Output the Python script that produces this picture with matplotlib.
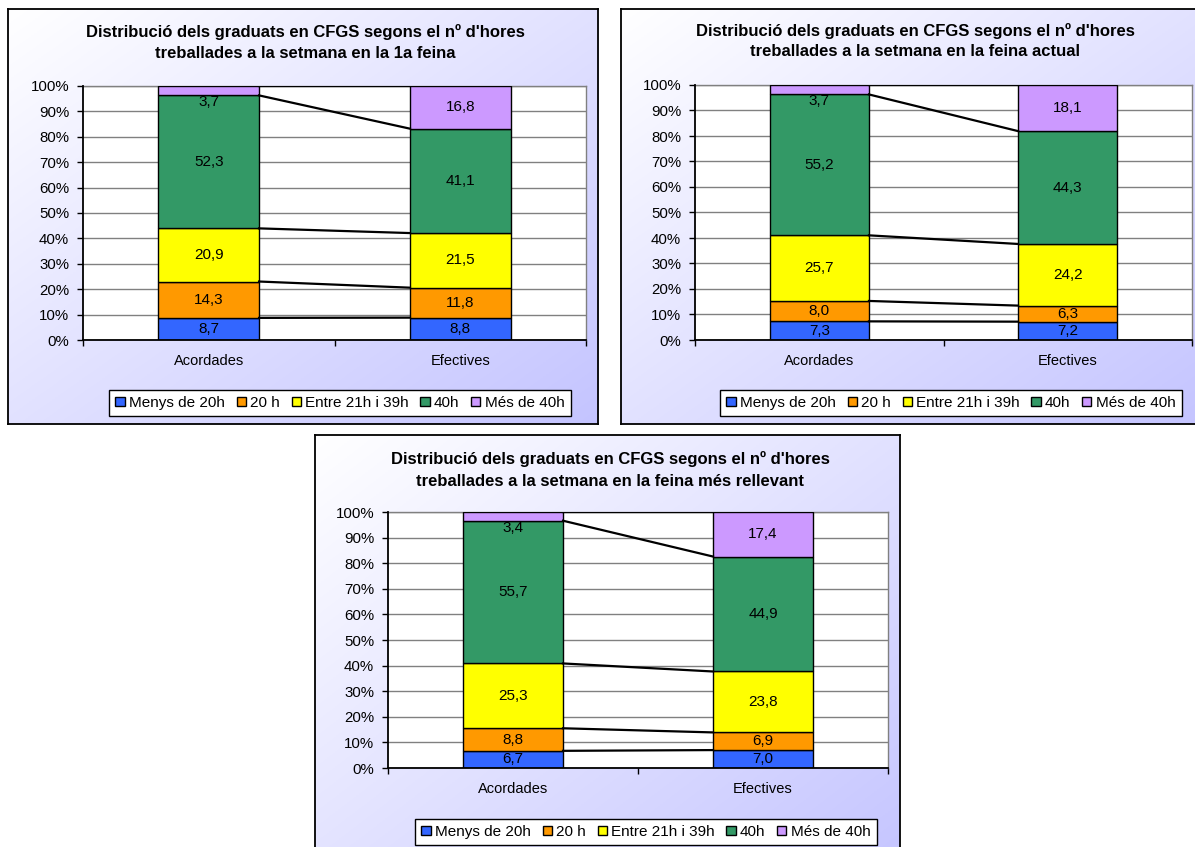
import matplotlib.pyplot as plt
import numpy as np
from matplotlib.patches import Patch

plt.rcParams['font.family'] = ['Liberation Sans', 'DejaVu Sans']

# data (percentages)
categories = ['Acordades', 'Efectives']
series_names = ['Menys de 20h', '20 h', 'Entre 21h i 39h', '40h', 'Més de 40h']
colors = ['#3366FF', '#FF9900', '#FFFF00', '#339966', '#CC99FF']

title_1a = ["Distribució dels graduats en CFGS segons el nº d'hores",
            "treballades a la setmana en la 1a feina"]
title_actual = ["Distribució dels graduats en CFGS segons el nº d'hores",
                "treballades a la setmana en la feina actual"]
title_rellevant = ["Distribució dels graduats en CFGS segons el nº d'hores",
                   "treballades a la setmana en la feina més rellevant"]

# rows: Acordades, Efectives ; columns: series
primera_feina = [[8.7, 14.3, 20.9, 52.3, 3.7],
                 [8.8, 11.8, 21.5, 41.1, 16.8]]
feina_actual = [[7.3, 8.0, 25.7, 55.2, 3.7],
                [7.2, 6.3, 24.2, 44.3, 18.1]]
feina_rellevant = [[6.7, 8.8, 25.3, 55.7, 3.4],
                   [7.0, 6.9, 23.8, 44.9, 17.4]]

W, H = 1195, 847
fig = plt.figure(figsize=(W / 100, H / 100), dpi=100)
fig.patch.set_facecolor('white')


def fr(x0, y0, x1, y1):
    # pixel box (top-left origin) -> figure fraction rect
    return [x0 / W, 1 - y1 / H, (x1 - x0) / W, (y1 - y0) / H]


def draw_panel(box, plot, title_x, title_y, leg_xy, title, data):
    # chart area with diagonal gradient
    bg = fig.add_axes(fr(*box), zorder=0)
    n = 200
    i, j = np.mgrid[0:n, 0:n] / (n - 1)
    t = (i + j) / 2
    end = np.array([196, 196, 255]) / 255
    grad = (1 - t)[..., None] * np.ones(3) + t[..., None] * end
    bg.imshow(grad, extent=[0, 1, 0, 1], aspect='auto', origin='upper')
    bg.set_xticks([])
    bg.set_yticks([])
    for s in bg.spines.values():
        s.set_color('black')
        s.set_linewidth(1.3)

    ax = fig.add_axes(fr(*plot), zorder=1)
    ax.set_facecolor('white')
    vals = np.array(data, dtype=float)
    pct = vals / vals.sum(axis=1, keepdims=True) * 100
    x = np.arange(len(categories))
    width = 0.4
    bottom = np.zeros(len(categories))
    tops = []
    for k, name in enumerate(series_names):
        ax.bar(x, pct[:, k], width, bottom=bottom, color=colors[k],
               edgecolor='black', linewidth=1, zorder=3)
        for c in range(len(categories)):
            yl = min(bottom[c] + pct[c, k] / 2, 93.7)
            ax.text(x[c], yl, f"{vals[c, k]:.1f}".replace('.', ','),
                    ha='center', va='center', fontsize=11, zorder=5)
        bottom = bottom + pct[:, k]
        tops.append(bottom.copy())
    # series lines between the bars
    for tp in tops:
        ax.plot([x[0] + width / 2, x[1] - width / 2], [tp[0], tp[1]],
                color='black', linewidth=1.6, zorder=4)

    ax.set_xlim(-0.5, 1.5)
    ax.set_ylim(0, 100)
    ax.set_yticks(range(0, 101, 10))
    ax.set_yticklabels([f"{v}%" for v in range(0, 101, 10)])
    ax.set_xticks(x)
    ax.set_xticklabels(categories)
    ax.set_xticks([-0.5, 0.5, 1.5], minor=True)
    ax.tick_params(axis='x', which='major', length=0, pad=10, labelsize=10.5)
    ax.tick_params(axis='x', which='minor', length=4, width=1)
    ax.tick_params(axis='y', length=4, width=1, pad=6, labelsize=10.8)
    ax.yaxis.grid(True, color='#808080', linewidth=1)
    ax.set_axisbelow(True)
    for side in ['left', 'bottom']:
        ax.spines[side].set_color('black')
        ax.spines[side].set_linewidth(1.3)
        ax.spines[side].set_zorder(6)
    for side in ['top', 'right']:
        ax.spines[side].set_color('#808080')
        ax.spines[side].set_linewidth(1)

    for line, ty in zip(title, title_y):
        fig.text(title_x / W, 1 - ty / H, line, ha='center', va='center',
                 fontsize=12, fontweight='bold')

    handles = [Patch(facecolor=c, edgecolor='black', label=nm)
               for c, nm in zip(colors, series_names)]
    leg = fig.legend(handles=handles, loc='center',
                     bbox_to_anchor=(leg_xy[0] / W, 1 - leg_xy[1] / H),
                     ncol=5, fontsize=11, frameon=True, fancybox=False,
                     edgecolor='black', framealpha=1, handlelength=0.6,
                     handleheight=0.6, handletextpad=0.3, columnspacing=0.75,
                     borderpad=0.4, borderaxespad=0)
    leg.get_frame().set_linewidth(1)
    leg.set_zorder(7)


draw_panel((8, 9, 598, 424), (83, 86, 586, 340), 305, (32, 53),
           (340, 403), title_1a, primera_feina)
draw_panel((621, 9, 1209, 424), (695, 85, 1192, 340), 915, (31, 52),
           (951, 403), title_actual, feina_actual)
draw_panel((315, 435, 900, 880), (388, 512, 888, 768), 610, (459, 481),
           (646, 832), title_rellevant, feina_rellevant)

fig.savefig('out.png', dpi=100)
